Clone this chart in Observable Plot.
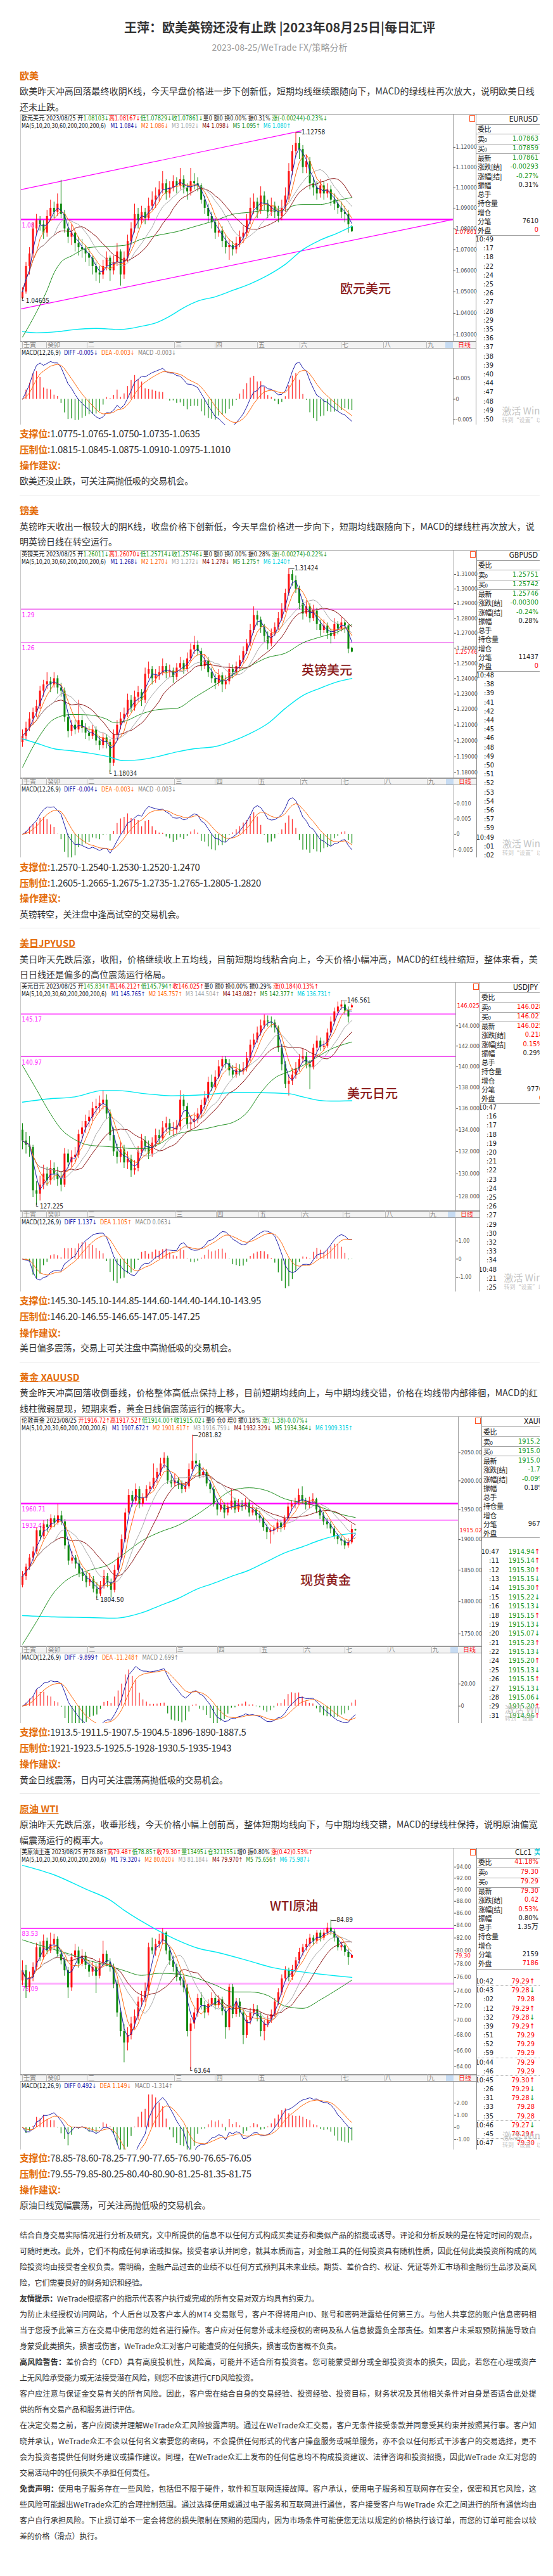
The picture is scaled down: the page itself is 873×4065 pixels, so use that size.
<!DOCTYPE html>
<html><head><meta charset="utf-8">
<script src="https://cdn.jsdelivr.net/npm/d3@7"></script>
<script src="https://cdn.jsdelivr.net/npm/@observablehq/plot@0.6"></script>
<style>
body{margin:0;background:#fff;font-family:"Noto Sans CJK SC","Noto Sans",sans-serif;}
#page{position:relative;width:873px;height:4065px;overflow:hidden;background:#fff;}
</style></head><body><div id="page"></div>
<script>
// ---------------- DATA ----------------
const titleText = "王萍：欧美英镑还没有止跌 |2023年08月25日|每日汇评";
const subtitleText = "2023-08-25/WeTrade FX/策略分析";
const headings = ["欧美","镑美","美日JPYUSD","黄金 XAUUSD","原油 WTI"];
const paragraphs = [
 ["欧美昨天冲高回落最终收阴K线，今天早盘价格进一步下创新低，短期均线继续跟随向下，MACD的绿线柱再次放大，说明欧美日线","还未止跌。"],
 ["英镑昨天收出一根较大的阴K线，收盘价格下创新低，今天早盘价格进一步向下，短期均线跟随向下，MACD的绿线柱再次放大，说","明英镑日线在转空运行。"],
 ["美日昨天先跌后涨，收阳，价格继续收上五均线，目前短期均线粘合向上，今天价格小幅冲高，MACD的红线柱缩短，整体来看，美","日日线还是偏多的高位震荡运行格局。"],
 ["黄金昨天冲高回落收倒垂线，价格整体高低点保持上移，目前短期均线向上，与中期均线交错，价格在均线带内部徘徊，MACD的红","线柱微弱显现，短期来看，黄金日线偏震荡运行的概率大。"],
 ["原油昨天先跌后涨，收垂形线，今天价格小幅上创前高，整体短期均线向下，与中期均线交错，MACD的绿线柱保持，说明原油偏宽","幅震荡运行的概率大。"]
];
const supports = ["1.0775-1.0765-1.0750-1.0735-1.0635","1.2570-1.2540-1.2530-1.2520-1.2470","145.30-145.10-144.85-144.60-144.40-144.10-143.95","1913.5-1911.5-1907.5-1904.5-1896-1890-1887.5","78.85-78.60-78.25-77.90-77.65-76.90-76.65-76.05"];
const pressures = ["1.0815-1.0845-1.0875-1.0910-1.0975-1.1010","1.2605-1.2665-1.2675-1.2735-1.2765-1.2805-1.2820","146.20-146.55-146.65-147.05-147.25","1921-1923.5-1925.5-1928-1930.5-1935-1943","79.55-79.85-80.25-80.40-80.90-81.25-81.35-81.75"];
const advices = ["欧美还没止跌，可关注高抛低吸的交易机会。","英镑转空，关注盘中逢高试空的交易机会。","美日偏多震荡，交易上可关注盘中高抛低吸的交易机会。","黄金日线震荡，日内可关注震荡高抛低吸的交易机会。","原油日线宽幅震荡，可关注高抛低吸的交易机会。"];
const disclaimer = [
 ["结合自身交易实际情况进行分析及研究，文中所提供的信息不以任何方式构成买卖证券和类似产品的招揽或诱导。评论和分析反映的是在特定时间的观点，",1],
 ["可随时更改。此外，它们不构成任何承诺或担保。接受者承认并同意，就其本质而言，对金融工具的任何投资具有随机性质，因此任何此类投资所构成的风",1],
 ["险投资均由接受者全权负责。需明确，金融产品过去的业绩不以任何方式预判其未来业绩。期货、差价合约、权证、凭证等外汇市场和金融衍生品涉及高风",1],
 ["险，它们需要良好的财务知识和经验。",0],
 ["<b>友情提示：</b>WeTrade根据客户的指示代表客户执行或完成的所有交易对双方均具有约束力。",0],
 ["为防止未经授权访问网站，个人后台以及客户本人的MT4 交易账号，客户不得将用户ID、账号和密码泄露给任何第三方。与他人共享您的账户信息密码相",1],
 ["当于您授予此第三方在交易中使用您的姓名进行操作。客户应对任何意外或未经授权的密码及私人信息披露负全部责任。如果客户未采取预防措施导致自",1],
 ["身蒙受此类损失，损害或伤害，WeTrade众汇对客户可能遭受的任何损失，损害或伤害概不负责。",0],
 ["<b>高风险警告：</b>差价合约（CFD）具有高度投机性，风险高，可能并不适合所有投资者。您可能蒙受部分或全部投资资本的损失，因此，若您在心理或资产",1],
 ["上无风险承受能力或无法接受潜在风险，则您不应该进行CFD风险投资。",0],
 ["客户应注意与保证金交易有关的所有风险。因此，客户需在结合自身的交易经验、投资经验、投资目标，财务状况及其他相关条件对自身是否适合此处提",1],
 ["供的所有交易产品和服务进行评估。",0],
 ["在决定交易之前，客户应阅读并理解WeTrade众汇风险披露声明。通过在WeTrade众汇交易，客户无条件接受条款并同意受其约束并按照其行事。客户知",1],
 ["晓并承认，WeTrade众汇不会以任何名义索要您的密码，不会提供任何形式的代客户操盘服务或喊单服务，亦不会以任何形式干涉客户的交易选择，更不",1],
 ["会为投资者提供任何财务建议或操作建议。同理，在WeTrade众汇上发布的任何信息均不构成投资建议、法律咨询和投资招揽，因此WeTrade 众汇对您的",1],
 ["交易活动中的任何损失不承担任何责任。",0],
 ["<b>免责声明：</b>使用电子服务存在一些风险，包括但不限于硬件，软件和互联网连接故障。客户承认，使用电子服务和互联网存在安全，保密和其它风险，这",1],
 ["些风险可能超出WeTrade众汇的合理控制范围。通过选择使用或通过电子服务和互联网进行通信，客户接受客户与WeTrade 众汇之间进行的所有通信均由",1],
 ["客户自行承担风险。下止损订单不一定会将您的损失限制在预期的范围内，因为市场条件可能使您无法以规定的价格执行该订单，而您的订单可能会以较",1],
 ["差的价格（滑点）执行。",0]
];
const monthLabels = ["壬寅","癸卯","二","三","四","五","六","七","八","九"];

// EURUSD daily candles [open, high, low, close]
const eurOHLC = [[1.047,1.052,1.0464,1.050],[1.050,1.064,1.049,1.062],[1.062,1.071,1.058,1.068],[1.068,1.083,1.066,1.080],[1.080,1.087,1.077,1.084],[1.084,1.086,1.079,1.082],[1.082,1.084,1.075,1.078],[1.078,1.089,1.076,1.086],[1.086,1.094,1.084,1.090],[1.090,1.093,1.085,1.088],
[1.088,1.097,1.086,1.092],[1.092,1.1037,1.085,1.087],[1.087,1.089,1.078,1.080],[1.080,1.083,1.073,1.076],[1.076,1.082,1.072,1.078],[1.078,1.079,1.069,1.073],[1.073,1.076,1.067,1.071],[1.071,1.075,1.066,1.070],[1.070,1.072,1.064,1.068],[1.068,1.071,1.062,1.066],
[1.066,1.067,1.058,1.062],[1.062,1.064,1.055,1.059],[1.059,1.062,1.054,1.058],[1.058,1.065,1.056,1.062],[1.062,1.069,1.060,1.066],[1.066,1.067,1.055,1.060],[1.060,1.067,1.058,1.064],[1.064,1.073,1.062,1.069],[1.069,1.070,1.0528,1.058],[1.058,1.069,1.056,1.066],
[1.066,1.077,1.064,1.074],[1.074,1.083,1.072,1.080],[1.080,1.092,1.078,1.087],[1.087,1.090,1.080,1.084],[1.084,1.091,1.082,1.088],[1.088,1.090,1.082,1.085],[1.085,1.095,1.084,1.091],[1.091,1.098,1.089,1.094],[1.094,1.100,1.090,1.096],[1.096,1.103,1.093,1.099],
[1.099,1.108,1.097,1.102],[1.102,1.104,1.094,1.097],[1.097,1.103,1.095,1.100],[1.100,1.106,1.098,1.103],[1.103,1.105,1.097,1.101],[1.101,1.1096,1.099,1.104],[1.104,1.106,1.097,1.100],[1.100,1.102,1.094,1.098],[1.098,1.1096,1.096,1.103],[1.103,1.107,1.099,1.102],
[1.102,1.105,1.098,1.101],[1.101,1.102,1.092,1.094],[1.094,1.096,1.087,1.090],[1.090,1.092,1.083,1.086],[1.086,1.088,1.080,1.083],[1.083,1.085,1.075,1.078],[1.078,1.083,1.076,1.079],[1.079,1.081,1.071,1.074],[1.074,1.077,1.068,1.071],[1.071,1.075,1.065,1.072],
[1.072,1.074,1.067,1.070],[1.070,1.076,1.068,1.073],[1.073,1.079,1.071,1.076],[1.076,1.081,1.073,1.078],[1.078,1.087,1.076,1.084],[1.084,1.095,1.082,1.090],[1.090,1.097,1.087,1.093],[1.093,1.095,1.085,1.089],[1.089,1.1005,1.087,1.096],[1.096,1.098,1.089,1.092],
[1.092,1.094,1.085,1.088],[1.088,1.095,1.086,1.091],[1.091,1.093,1.085,1.088],[1.088,1.091,1.083,1.086],[1.086,1.094,1.084,1.090],[1.090,1.100,1.088,1.096],[1.096,1.112,1.094,1.108],[1.108,1.121,1.106,1.118],[1.118,1.1276,1.115,1.122],[1.122,1.125,1.114,1.119],
[1.119,1.121,1.107,1.110],[1.110,1.116,1.107,1.113],[1.113,1.115,1.099,1.102],[1.102,1.105,1.096,1.100],[1.100,1.103,1.094,1.097],[1.097,1.104,1.095,1.101],[1.101,1.103,1.094,1.097],[1.097,1.102,1.095,1.099],[1.099,1.101,1.091,1.094],[1.094,1.097,1.089,1.092],
[1.092,1.095,1.087,1.090],[1.090,1.093,1.085,1.088],[1.088,1.091,1.083,1.087],[1.087,1.089,1.078,1.082],[1.0810,1.0817,1.0783,1.0786]];
const eurMA60 = [[0,1.029],[4,1.0406],[7,1.0507],[9,1.0589],[11,1.064],[14,1.067],[19,1.071],[24,1.0715],[29,1.072],[34,1.075],[39,1.077],[44,1.0786],[49,1.081],[55,1.084],[60,1.087],[65,1.088],[70,1.089],[75,1.089],[77,1.091],[80,1.0918],[85,1.0918],[90,1.0938],[94,1.0952]];
const eurMA200 = [[0,1.0315],[4,1.031],[10,1.0315],[14,1.0323],[21,1.033],[28,1.0325],[34,1.034],[38,1.0355],[42,1.0386],[46,1.0426],[50,1.0457],[55,1.0477],[60,1.0507],[65,1.0538],[70,1.0578],[75,1.063],[80,1.070],[85,1.0746],[90,1.078],[94,1.0812]];
const eurTrend = [{x1:-0.54,y1:1.0990,x2:79.7,y2:1.1283},{x1:-0.54,y1:1.0420,x2:122.9,y2:1.0845}];
const eurLevels = [{v:1.0845,label:"1.08",w:2.5,color:"#ff00ff"}];
const eurTicks = [1.03,1.04,1.05,1.06,1.07,1.08,1.09,1.10,1.11,1.12];
const eurMacdTicks = [-0.005,0,0.005];

const gbpOHLC = [[1.199,1.207,1.196,1.203],[1.203,1.212,1.200,1.208],[1.208,1.218,1.206,1.214],[1.214,1.221,1.210,1.218],[1.218,1.226,1.215,1.222],[1.222,1.235,1.220,1.232],[1.232,1.239,1.228,1.236],[1.236,1.244,1.233,1.238],[1.238,1.241,1.231,1.236],[1.236,1.244,1.234,1.240],
[1.240,1.242,1.230,1.234],[1.234,1.237,1.228,1.232],[1.232,1.234,1.212,1.215],[1.215,1.218,1.202,1.206],[1.206,1.213,1.203,1.210],[1.210,1.213,1.204,1.207],[1.207,1.226,1.205,1.213],[1.213,1.216,1.205,1.208],[1.208,1.211,1.201,1.205],[1.205,1.209,1.200,1.203],
[1.203,1.210,1.201,1.207],[1.207,1.209,1.197,1.200],[1.200,1.203,1.194,1.197],[1.197,1.205,1.195,1.202],[1.202,1.204,1.195,1.199],[1.199,1.201,1.1803,1.186],[1.186,1.207,1.184,1.204],[1.204,1.213,1.201,1.210],[1.210,1.218,1.207,1.214],[1.214,1.221,1.211,1.217],
[1.217,1.230,1.215,1.226],[1.226,1.229,1.218,1.221],[1.221,1.232,1.219,1.228],[1.228,1.235,1.225,1.231],[1.231,1.233,1.222,1.226],[1.226,1.247,1.224,1.243],[1.243,1.251,1.240,1.246],[1.246,1.248,1.236,1.240],[1.240,1.246,1.237,1.242],[1.242,1.248,1.239,1.244],
[1.244,1.253,1.242,1.248],[1.248,1.250,1.240,1.244],[1.244,1.249,1.241,1.245],[1.245,1.247,1.237,1.241],[1.241,1.250,1.239,1.247],[1.247,1.254,1.245,1.250],[1.250,1.252,1.243,1.246],[1.246,1.257,1.244,1.253],[1.253,1.263,1.251,1.259],[1.259,1.268,1.256,1.262],
[1.262,1.265,1.255,1.258],[1.258,1.260,1.245,1.248],[1.248,1.256,1.246,1.252],[1.252,1.254,1.241,1.244],[1.244,1.247,1.237,1.240],[1.240,1.243,1.233,1.237],[1.237,1.246,1.235,1.242],[1.242,1.244,1.231,1.236],[1.236,1.242,1.233,1.238],[1.238,1.250,1.236,1.246],
[1.246,1.249,1.240,1.244],[1.244,1.251,1.242,1.248],[1.248,1.255,1.246,1.252],[1.252,1.261,1.250,1.258],[1.258,1.266,1.256,1.263],[1.263,1.276,1.261,1.272],[1.272,1.288,1.270,1.282],[1.282,1.285,1.275,1.279],[1.279,1.281,1.270,1.274],[1.274,1.276,1.264,1.268],
[1.268,1.271,1.259,1.263],[1.263,1.273,1.261,1.270],[1.270,1.277,1.268,1.274],[1.274,1.284,1.272,1.280],[1.280,1.290,1.278,1.286],[1.286,1.300,1.284,1.297],[1.297,1.3142,1.295,1.310],[1.310,1.313,1.302,1.306],[1.306,1.309,1.297,1.300],[1.300,1.302,1.286,1.290],
[1.290,1.293,1.279,1.283],[1.283,1.292,1.281,1.288],[1.288,1.290,1.277,1.280],[1.280,1.289,1.278,1.285],[1.285,1.287,1.272,1.276],[1.276,1.279,1.268,1.272],[1.272,1.279,1.270,1.275],[1.275,1.277,1.266,1.270],[1.270,1.273,1.263,1.268],[1.268,1.280,1.266,1.276],
[1.276,1.278,1.269,1.273],[1.273,1.281,1.271,1.277],[1.277,1.279,1.270,1.275],[1.275,1.276,1.2565,1.2595],[1.2601,1.2607,1.2571,1.2575]];
const gbpMA60 = [[0,1.1833],[4,1.200],[9,1.2138],[14,1.2168],[19,1.2165],[24,1.2138],[26,1.2117],[29,1.2124],[34,1.2172],[39,1.220],[44,1.2207],[49,1.2276],[55,1.2359],[60,1.2428],[65,1.2484],[70,1.2539],[75,1.2567],[80,1.2636],[85,1.2675],[90,1.271],[94,1.2758]];
const gbpMA200 = [[0,1.2013],[4,1.1985],[9,1.195],[14,1.1937],[19,1.1923],[24,1.1903],[29,1.1875],[34,1.1882],[39,1.1903],[44,1.193],[49,1.195],[55,1.1964],[60,1.1999],[65,1.2047],[70,1.211],[75,1.2207],[80,1.229],[85,1.2338],[90,1.238],[94,1.2401]];
const gbpLevels = [{v:1.2862,label:"1.29",w:1.5,color:"#ee66ee"},{v:1.2637,label:"1.26",w:1.5,color:"#ee66ee"}];
const gbpTicks = [1.18,1.19,1.20,1.21,1.22,1.23,1.24,1.25,1.26,1.27,1.28,1.29,1.30,1.31];
const gbpMacdTicks = [-0.005,0,0.005,0.010];

const jpyOHLC = [[134.0,134.6,132.2,133.0],[133.0,133.8,131.8,132.6],[132.6,133.4,131.5,132.4],[132.4,132.6,127.9,128.5],[128.5,129.3,127.2,128.2],[128.2,129.8,127.6,129.0],[129.0,130.8,128.6,130.0],[130.0,130.6,128.9,129.4],[129.4,131.2,129.0,130.5],[130.5,131.0,129.4,130.0],
[130.0,130.6,128.9,129.5],[129.5,130.2,128.4,129.0],[129.0,132.3,128.8,131.8],[131.8,132.2,130.5,131.0],[131.0,132.1,130.6,131.5],[131.5,132.4,130.9,131.7],[131.7,134.0,131.4,133.6],[133.6,134.8,133.0,134.2],[134.2,135.4,133.7,134.8],[134.8,135.8,134.2,135.2],
[135.2,136.6,134.8,136.0],[136.0,136.9,135.4,136.2],[136.2,137.2,135.6,136.5],[136.5,137.7,135.9,136.8],[136.8,137.3,135.0,135.5],[135.5,135.9,133.0,133.5],[133.5,134.2,131.6,132.0],[132.0,132.7,130.9,131.5],[131.5,132.9,131.0,132.2],[132.2,132.6,130.5,131.0],
[131.0,132.0,130.4,131.3],[131.3,131.7,129.7,130.3],[130.3,131.2,129.9,130.5],[130.5,132.5,130.2,132.0],[132.0,133.6,131.6,133.0],[133.0,133.4,132.0,132.5],[132.5,133.0,131.3,131.8],[131.8,133.3,131.5,132.8],[132.8,134.1,132.4,133.5],[133.5,134.0,132.7,133.2],
[133.2,134.8,133.0,134.2],[134.2,135.2,133.8,134.6],[134.6,135.0,133.5,134.0],[134.0,134.7,133.4,134.0],[134.0,134.9,133.6,134.3],[134.3,137.7,134.0,136.8],[136.8,137.3,135.8,136.2],[136.2,136.5,134.1,134.5],[134.5,135.3,134.0,134.7],[134.7,135.6,134.2,135.0],
[135.0,136.0,134.6,135.5],[135.5,136.8,135.1,136.3],[136.3,137.6,135.9,137.0],[137.0,139.0,136.7,138.5],[138.5,139.2,137.6,138.0],[138.0,139.6,137.7,139.0],[139.0,140.6,138.8,140.0],[140.0,141.0,139.6,140.7],[140.7,141.0,139.8,140.3],[140.3,140.7,139.1,139.6],
[139.6,140.1,138.9,139.2],[139.2,140.3,138.9,139.7],[139.7,140.2,139.1,139.5],[139.5,140.4,139.2,139.8],[139.8,141.4,139.5,140.8],[140.8,142.6,140.5,142.1],[142.1,143.2,141.8,142.6],[142.6,143.9,142.3,143.3],[143.3,144.6,143.0,144.0],[144.0,145.1,143.7,144.5],
[144.5,145.0,143.9,144.4],[144.4,144.9,143.8,144.3],[144.3,144.6,143.3,143.8],[143.8,144.0,141.4,141.8],[141.8,142.2,139.6,140.2],[140.2,140.5,137.9,138.3],[138.3,139.2,137.2,138.6],[138.6,139.8,138.2,139.2],[139.2,140.4,138.8,139.8],[139.8,141.2,139.5,140.7],
[140.7,141.7,140.3,141.0],[141.0,141.4,139.8,140.2],[140.2,140.6,137.8,139.9],[139.9,142.2,139.7,141.8],[141.8,143.0,141.4,142.5],[142.5,142.8,141.5,141.9],[141.9,142.5,141.5,142.0],[142.0,143.7,141.8,143.3],[143.3,144.9,143.0,144.4],[144.4,145.8,144.1,145.4],
[145.4,146.4,145.1,145.9],[145.9,146.56,145.6,146.1],[146.1,146.4,145.1,145.5],[145.5,145.9,144.3,144.9],[145.83,146.21,145.79,146.03]];
const jpyMA60 = [[0,140.1],[4,137.8],[7,136.05],[11,134.1],[15,133.1],[19,132.6],[23,132.5],[27,132.4],[31,132.3],[35,132.3],[39,132.7],[43,133.5],[48,133.9],[52,134.1],[56,134.4],[60,134.7],[64,135.6],[68,137.5],[72,138.9],[76,139.5],[80,140.1],[84,140.9],[88,141.7],[92,142.2],[94,142.4]];
const jpyMA200 = [[0,136.6],[7,136.9],[15,137.1],[23,137.7],[27,137.7],[35,137.4],[43,137.2],[52,137.3],[60,137.5],[68,137.5],[76,137.4],[80,137.1],[84,136.8],[88,136.7],[94,136.73]];
const jpyLevels = [{v:145.17,label:"145.17",w:2,color:"#ff66ff"},{v:140.97,label:"140.97",w:1.5,color:"#ee44ee"}];
const jpyTicks = [128,130,132,134,136,138,140,142,144];
const jpyMacdTicks = [-1,0,1];

const xauOHLC = [[1826,1848,1822,1840],[1840,1860,1834,1855],[1855,1876,1850,1870],[1870,1888,1864,1880],[1880,1920,1876,1915],[1915,1922,1898,1905],[1905,1932,1900,1925],[1925,1934,1912,1920],[1920,1942,1916,1935],[1935,1940,1920,1928],
[1928,1960,1924,1940],[1940,1948,1924,1930],[1930,1934,1884,1890],[1890,1896,1858,1865],[1865,1880,1860,1870],[1870,1874,1852,1860],[1860,1866,1838,1845],[1845,1852,1832,1840],[1840,1846,1822,1830],[1830,1845,1824,1835],
[1835,1840,1814,1820],[1820,1830,1804.5,1812],[1812,1832,1808,1825],[1825,1850,1820,1840],[1840,1845,1822,1830],[1830,1836,1806,1818],[1818,1858,1814,1850],[1850,1878,1845,1870],[1870,1908,1866,1900],[1900,1952,1895,1945],
[1945,1985,1940,1975],[1975,1982,1955,1965],[1965,1995,1960,1985],[1985,1990,1952,1960],[1960,1978,1955,1970],[1970,1992,1965,1985],[1985,1998,1978,1990],[1990,2030,1985,2005],[2005,2022,1996,2015],[2015,2040,2008,2030],
[2030,2050,2022,2040],[2040,2044,1994,2000],[2000,2010,1988,1995],[1995,2012,1990,2000],[2000,2006,1985,1995],[1995,2000,1978,1985],[1985,1998,1980,1990],[1990,2030,1986,2020],[2020,2081.8,2015,2035],[2035,2048,2022,2030],
[2030,2036,2004,2010],[2010,2024,2005,2015],[2015,2020,1990,1995],[1995,2000,1978,1985],[1985,1990,1955,1960],[1960,1966,1940,1950],[1950,1968,1946,1958],[1958,1962,1935,1945],[1945,1962,1940,1955],[1955,1985,1950,1965],
[1965,1970,1944,1950],[1950,1968,1946,1960],[1960,1966,1948,1955],[1955,1970,1950,1962],[1962,1966,1938,1945],[1945,1958,1940,1950],[1950,1954,1932,1940],[1940,1948,1928,1935],[1935,1938,1914,1920],[1920,1926,1900,1912],
[1912,1920,1893,1915],[1915,1924,1908,1918],[1918,1934,1912,1928],[1928,1932,1912,1920],[1920,1940,1916,1935],[1935,1962,1930,1955],[1955,1966,1948,1960],[1960,1970,1952,1962],[1962,1986,1958,1975],[1975,1990,1960,1965],
[1965,1970,1950,1958],[1958,1972,1952,1965],[1965,1978,1960,1968],[1968,1970,1944,1950],[1950,1955,1934,1940],[1940,1946,1924,1930],[1930,1936,1918,1925],[1925,1930,1910,1918],[1918,1922,1900,1905],[1905,1910,1892,1900],
[1900,1906,1890,1898],[1898,1902,1884,1890],[1890,1902,1886,1895],[1895,1925,1892,1917],[1916.7,1917.5,1914.0,1915.0]];
const xauMA60 = [[0,1734],[4,1769],[9,1815],[12,1832],[19,1850],[24,1858],[29,1878],[34,1899],[39,1913],[44,1924],[49,1941],[54,1962],[59,1983],[64,1988],[69,1983],[74,1969],[79,1962],[84,1955],[89,1944],[94,1937]];
const xauMA200 = [[0,1778],[9,1776],[19,1775],[26,1774],[34,1783],[39,1794],[44,1805],[49,1819],[54,1829],[59,1840],[64,1850],[69,1864],[74,1878],[79,1888],[84,1899],[89,1907],[94,1911]];
const xauLevels = [{v:1960.71,label:"1960.71",w:2.5,color:"#ff00ff"},{v:1932.41,label:"1932.41",w:1.2,color:"#ff33ff"}];
const xauTicks = [1750,1800,1850,1900,1950,2000,2050];
const xauMacdTicks = [0,20];

const oilOHLC = [[75.5,78.5,74.8,77.0],[77.0,77.8,73.0,74.5],[74.5,76.8,73.8,76.0],[76.0,78.2,75.4,77.5],[77.5,81.2,77.0,80.5],[80.5,81.4,78.4,79.0],[79.0,82.5,78.6,81.5],[81.5,82.0,79.4,80.0],[80.0,82.8,79.6,81.0],[81.0,82.6,80.2,81.8],
[81.8,82.2,79.0,79.5],[79.5,80.2,77.9,78.5],[78.5,79.0,76.2,77.0],[77.0,77.5,73.0,74.5],[74.5,79.6,74.0,79.0],[79.0,81.0,78.5,80.0],[80.0,80.6,77.4,78.0],[78.0,80.2,77.6,79.2],[79.2,79.8,77.2,77.8],[77.8,78.4,76.0,76.8],
[76.8,78.4,76.2,77.5],[77.5,78.0,73.7,76.2],[76.2,78.8,75.8,78.0],[78.0,81.5,77.5,79.5],[79.5,80.0,77.6,78.2],[78.2,78.8,76.8,77.5],[77.5,78.0,74.4,75.0],[75.0,75.6,70.4,71.0],[71.0,71.6,67.8,68.5],[68.5,69.4,64.5,67.0],
[67.0,69.0,66.0,68.0],[68.0,70.4,67.4,69.5],[69.5,71.4,68.8,70.5],[70.5,73.2,70.0,72.5],[72.5,74.0,71.8,73.0],[73.0,75.2,72.4,74.0],[74.0,81.2,73.6,80.5],[80.5,82.0,79.4,80.0],[80.0,81.8,79.2,81.0],[81.0,82.6,80.4,81.5],
[81.5,83.5,81.0,82.8],[82.8,83.0,79.4,80.0],[80.0,80.6,77.8,78.5],[78.5,79.2,76.8,77.5],[77.5,78.0,75.4,76.0],[76.0,77.0,74.8,75.5],[75.5,76.2,73.8,74.5],[74.5,75.0,67.8,68.5],[68.5,70.2,63.64,69.5],[69.5,71.6,68.8,71.0],
[71.0,73.6,70.4,73.0],[73.0,73.8,71.4,72.0],[72.0,72.6,70.2,71.0],[71.0,72.8,70.6,72.2],[72.2,73.8,71.8,73.0],[73.0,73.4,71.4,72.0],[72.0,73.4,71.6,72.8],[72.8,73.2,70.6,71.2],[71.2,71.8,67.5,69.0],[69.0,75.0,68.6,74.6],
[74.6,75.0,70.2,70.8],[70.8,73.0,70.4,72.5],[72.5,73.0,70.4,71.0],[71.0,71.4,66.8,68.0],[68.0,70.6,67.6,70.0],[70.0,71.6,69.4,71.0],[71.0,72.2,70.6,71.5],[71.5,72.0,69.8,70.5],[70.5,71.0,67.8,68.5],[68.5,70.0,67.3,69.5],
[69.5,70.6,69.0,70.0],[70.0,71.4,69.6,70.8],[70.8,73.0,70.4,72.5],[72.5,74.4,72.0,73.8],[73.8,76.4,73.4,75.8],[75.8,77.6,75.4,77.0],[77.0,77.4,75.4,76.0],[76.0,77.8,75.6,77.2],[77.2,79.0,76.8,78.5],[78.5,80.4,78.0,79.8],
[79.8,81.0,79.2,80.5],[80.5,81.8,80.0,81.0],[81.0,82.6,80.6,82.0],[82.0,82.4,80.8,81.5],[81.5,83.2,81.0,82.8],[82.8,83.2,81.4,82.0],[82.0,83.4,81.6,82.8],[82.8,84.4,82.4,83.6],[83.6,84.89,82.4,83.0],[83.0,83.4,81.4,82.0],
[82.0,82.4,80.0,80.5],[80.5,81.4,80.0,80.8],[80.8,81.2,79.2,79.8],[79.8,80.2,77.8,79.0],[78.88,79.48,78.85,79.30]];
const oilMA60 = [[0,81.7],[4,81.0],[9,80.2],[14,79.4],[19,78.5],[24,77.8],[29,77.0],[34,76.3],[39,76.6],[44,76.5],[49,76.0],[55,74.9],[60,73.9],[65,73.9],[70,73.4],[75,71.9],[80,71.6],[85,72.8],[90,74.3],[94,75.6]];
const oilMA200 = [[0,94.3],[9,92.6],[18,90.1],[25,88.2],[29,86.5],[38,83.4],[44,81.7],[50,80.4],[56,79.7],[65,78.4],[71,77.5],[80,76.8],[90,76.2],[94,76.0]];
const oilLevels = [{v:83.53,label:"83.53",w:1.5,color:"#ff00ff"},{v:75.09,label:"75.09",w:3,color:"#ffb0ff"}];
const oilTicks = [64,66,68,70,72,74,76,78,80,82,84,86,88,90,92,94];
const oilMacdTicks = [-1,0,1,2];

// quote panels
const eurRows = [["委比",""],["卖0","1.07863","g"],["买0","1.07859","g"],["最新","1.07861","g"],["涨跌[结]","-0.00293","g"],["涨幅[结]","-0.27%","g"],["振幅","0.31%"],["总手",""],["持仓量",""],["增仓",""],["分笔","7610"],["外盘","0","r"]];
const eurTimes = ["10:49",":17",":18",":22",":24",":25",":26",":27",":28",":29",":35",":36",":37",":38",":39",":40",":44",":47",":48",":49",":50"];
const gbpRows = [["委比",""],["卖0","1.25751","g"],["买0","1.25742","g"],["最新","1.25746","g"],["涨跌[结]","-0.00300","g"],["涨幅[结]","-0.24%","g"],["振幅","0.28%"],["总手",""],["持仓量",""],["增仓",""],["分笔","11437"],["外盘","0","r"]];
const gbpTimes = ["10:48",":38",":39",":41",":42",":44",":45",":46",":48",":49",":50",":51",":52",":53",":54",":56",":57",":59","10:49",":01",":02"];
const jpyRows = [["委比",""],["卖0","146.028","r"],["买0","146.021","r"],["最新","146.025","r"],["涨跌[结]","0.218","r"],["涨幅[结]","0.15%","r"],["振幅","0.29%"],["总手",""],["持仓量",""],["增仓",""],["分笔","9770"],["外盘","0","r"]];
const jpyTimes = ["10:47",":16",":17",":18",":19",":20",":21",":22",":23",":24",":25",":26",":27",":29",":30",":32",":33",":34","10:48",":21",":25"];
const xauRows = [["委比",""],["卖0","1915.20","g"],["买0","1915.02","g"],["最新","1915.02","g"],["涨跌[结]","-1.70","g"],["涨幅[结]","-0.09%","g"],["振幅","0.18%"],["总手",""],["持仓量",""],["增仓",""],["分笔","9670"],["外盘",""]];
const xauTimes = [["10:47","1914.94","↑"],[":11","1915.14","↑"],[":12","1915.30","↑"],[":13","1915.15","↓"],[":14","1915.30","↑"],[":15","1915.22","↓"],[":16","1915.13","↓"],[":18","1915.15","↑"],[":19","1915.13","↓"],[":20","1915.07","↓"],[":21","1915.23","↑"],[":22","1915.13","↓"],[":24","1915.20","↑"],[":25","1915.13","↓"],[":26","1915.15","↑"],[":27","1915.13","↓"],[":28","1915.06","↓"],[":29","1915.20","↑"],[":31","1914.96","↑"]];
const oilRows = [["委比","41.18%","r"],["卖0","79.30","r"],["买0","79.29","r"],["最新","79.30","r"],["涨跌[结]","0.42","r"],["涨幅[结]","0.53%","r"],["振幅","0.80%"],["总手","1.35万"],["持仓量",""],["增仓",""],["分笔","2159"],["外盘","7186","r"]];
const oilTimes = [["10:42","79.29","↑"],["10:43","79.28","↓"],[":02","79.28",""],[":12","79.29","↑"],[":32","79.28","↓"],[":39","79.29","↑"],[":51","79.29",""],[":52","79.29",""],[":59","79.29",""],["10:44","79.29",""],[":46","79.29",""],["10:45","79.30","↑"],[":26","79.29","↓"],[":31","79.28","↓"],[":33","79.28",""],[":35","79.28",""],["10:46","79.27","↓"],[":45","79.29","↑"],["10:47","79.30",""]];

// chart header texts [text, color]
const eurHead1 = [["欧元美元 2023/08/25 开","#222"],["1.08103↓","#1a9a1a"],["高1.08167↓","#f00"],["低1.07829↓","#1a9a1a"],["收1.07861↓","#1a9a1a"],["量0 额0 换0.00% 振0.31% ","#222"],["涨(-0.00244)-0.23%↓","#1a9a1a"]];
const gbpHead1 = [["英镑美元 2023/08/25 开","#222"],["1.26011↓","#1a9a1a"],["高1.26070↓","#f00"],["低1.25714↓","#1a9a1a"],["收1.25746↓","#1a9a1a"],["量0 额0 换0.00% 振0.28% ","#222"],["涨(-0.00274)-0.22%↓","#1a9a1a"]];
const jpyHead1 = [["美元日元 2023/08/25 开","#222"],["145.834↑","#1a9a1a"],["高146.212↑","#f00"],["低145.794↑","#1a9a1a"],["收146.025↑","#f00"],["量0 额0 换0.00% 振0.29% ","#222"],["涨(0.184)0.13%↑","#f00"]];
const xauHead1 = [["伦敦黄金 2023/08/25 ","#222"],["开1916.72↑","#f00"],["高1917.52↑","#f00"],["低1914.00↑","#1a9a1a"],["收1915.02↓","#1a9a1a"],["量0 仓0 增0 振0.18% ","#222"],["涨(-1.38)-0.07%↓","#1a9a1a"]];
const oilHead1 = [["美原油主连 2023/08/25 开78.88↑","#222"],["高79.48↑","#f00"],["低78.85↑","#1a9a1a"],["收79.30↑","#f00"],["量13495↓","#1a9a1a"],["仓321155↓","#1a9a1a"],["增0 振0.80% ","#222"],["涨(0.42)0.53%↑","#f00"]];
const eurMAText = ["1.084↓","1.086↓","1.092↓","1.098↓","1.095↑","1.080↑"];
const gbpMAText = ["1.268↓","1.270↓","1.272↓","1.278↓","1.275↑","1.240↑"];
const jpyMAText = ["145.765↑","145.757↑","144.504↑","143.082↑","142.377↑","136.731↑"];
const xauMAText = ["1907.672↑","1901.617↑","1916.759↓","1932.329↓","1934.364↓","1909.315↑"];
const oilMAText = ["79.320↓","80.020↓","81.184↓","79.970↑","75.656↑","75.987↓"];
const eurMacdText = ["-0.005↓","-0.003↓","-0.003↓"];
const gbpMacdText = ["-0.004↓","-0.003↓","-0.003↓"];
const jpyMacdText = ["1.137↓","1.105↑","0.063↓"];
const xauMacdText = ["-9.899↑","-11.248↑","2.699↑"];
const oilMacdText = ["0.492↓","1.149↓","-1.314↑"];

// ---------------- RENDER ----------------
const page = document.getElementById("page");
const ORANGE = "#e46c0a";
const RED = "#ff1010", GRN = "#118a11";
const MAC = ["#1c1ca8","#ff6a10","#a8a8a8","#8b1414","#1f8f1f","#00e8f0"];
const NARROW = "'Liberation Sans Narrow','Arial Narrow','DejaVu Sans Condensed','Liberation Sans','Noto Sans CJK SC',sans-serif";

function el(parent, tag, css, html){ const e=document.createElement(tag); if(css) e.style.cssText=css; if(html!=null) e.innerHTML=html; parent.appendChild(e); return e; }
function textLine(y, html, o={}){
  const d = el(page,"div",`position:absolute;left:${o.x??31}px;top:${y-12.5}px;height:25px;line-height:25px;white-space:nowrap;font-size:${o.size??14}px;color:${o.color??"#333"};${o.css??""}`, html);
  if(o.w) d.dataset.w=o.w; return d;
}

// title
el(page,"div",`position:absolute;left:31px;width:821px;top:28px;height:30px;line-height:30px;text-align:center;font-size:20px;font-weight:bold;color:#333;`, titleText);
el(page,"div",`position:absolute;left:31px;width:821px;top:64px;height:20px;line-height:20px;text-align:center;font-size:14px;color:#999;`, subtitleText);

const secs = [
 {h:118,p:[143,168],sup:683,pre:708,op:733,adv:758,sep:782,w:813},
 {h:804,p:[830,854],sup:1367,pre:1392,op:1416,adv:1442,sep:1464,w:813},
 {h:1487,p:[1513,1537],sup:2051,pre:2076,op:2102,adv:2126,sep:2149,w:818},
 {h:2172,p:[2197,2222],sup:2732,pre:2757,op:2782,adv:2808,sep:2830,w:818},
 {h:2853,p:[2878,2903],sup:3404,pre:3429,op:3454,adv:3479,sep:3502,w:818}
];
secs.forEach((s,k)=>{
  textLine(s.h, `<span style="color:${ORANGE};font-weight:bold;${k>0?"text-decoration:underline;":""}">${headings[k]}</span>`, {size:15});
  textLine(s.p[0], paragraphs[k][0], {w:s.w});
  textLine(s.p[1], paragraphs[k][1]);
  textLine(s.sup, `<b style="color:${ORANGE}">支撑位:</b>${supports[k]}`, {size:15, css:"letter-spacing:-0.4px"});
  textLine(s.pre, `<b style="color:${ORANGE}">压制位:</b>${pressures[k]}`, {size:15, css:"letter-spacing:-0.4px"});
  textLine(s.op, `<b style="color:${ORANGE}">操作建议:</b>`, {size:15});
  textLine(s.adv, advices[k], {css:"letter-spacing:-0.3px"});
  el(page,"div",`position:absolute;left:31px;top:${s.sep}px;width:821px;height:1px;background:#e6e6e6`);
});
disclaimer.forEach(([t,full],k)=>{
  textLine(3526+25*k, t, {size:12, w: full?816:null, css: full?"":"letter-spacing:-0.2px"});
});

// -------- charts --------
function emaArr(a,n){ const k=2/(n+1); let e=a[0]; return a.map(v=>(e=e+k*(v-e))); }

function chart(c){
  const bandH=12, W=820, H=c.mainH+bandH+c.macdH, axR=c.plotW+c.axisW;
  const root = el(page,"div",`position:absolute;left:32px;top:${c.top}px;width:${W}px;height:${H}px;overflow:hidden;background:#fff;font-family:${NARROW};`);
  const n=c.ohlc.length, step=(c.lastX-c.firstX)/(n-1);
  const xd=[-c.firstX/step,(c.plotW-c.firstX)/step];
  const rows=c.ohlc.map(([o,h,l,cl],i)=>({i,o,h,l,c:cl,col:cl>=o?RED:GRN}));
  const closes=rows.map(d=>d.c);
  const last=rows[n-1];
  const hi=rows[c.hiIdx], lo=rows[c.loIdx];
  const style={background:"transparent",overflow:"visible",fontFamily:NARROW,fontSize:"9px",color:"#555"};
  const win=(k,col)=>Plot.lineY(rows,Plot.windowY({k,anchor:"end",strict:false},{x:"i",y:"c",stroke:col,strokeWidth:1,clip:true}));
  const mainSvg = Plot.plot({
    width:axR, height:c.mainH, marginLeft:0, marginRight:c.axisW, marginTop:0, marginBottom:0,
    x:{domain:xd, axis:null}, y:{type:"log", domain:c.yDomain, axis:null}, color:{type:"identity"}, style,
    marks:[
      Plot.ruleY(c.levels,{y:"v",stroke:"color",strokeWidth:"w"}),
      Plot.text(c.levels,{y:"v",text:"label",frameAnchor:"left",dx:2,dy:9,fill:"#ff22ff",fontSize:10,textAnchor:"start"}),
      c.trend ? Plot.link(c.trend,{x1:"x1",y1:"y1",x2:"x2",y2:"y2",stroke:"#ff00ff",strokeWidth:1.2}) : null,
      Plot.ruleX(rows,{x:"i",y1:"l",y2:"h",stroke:"col",strokeWidth:1,clip:true}),
      Plot.ruleX(rows,{x:"i",y1:"o",y2:"c",stroke:"col",strokeWidth:3,clip:true}),
      Plot.line(c.ma200,{x:d=>d[0],y:d=>d[1],stroke:MAC[5],strokeWidth:1.4,curve:"monotone-x",clip:true}),
      Plot.line(c.ma60,{x:d=>d[0],y:d=>d[1],stroke:MAC[4],strokeWidth:1,curve:"monotone-x",clip:true}),
      win(15,MAC[3]), win(10,MAC[2]), win(5,MAC[1]), win(3,MAC[0]),
      Plot.text([hi],{x:"i",y:"h",text:()=>"—"+c.hiText,textAnchor:"start",dx:0,dy:0,fill:"#222",fontSize:10}),
      Plot.text([lo],{x:"i",y:"l",text:()=>"└ "+c.loText,textAnchor:"start",dx:-3,dy:2,fill:"#222",fontSize:10}),
      Plot.axisY(c.ticks,{anchor:"right",tickSize:3,tickPadding:1,tickFormat:c.fmt,fontSize:9,label:null}),
      Plot.text([last],{y:"c",text:()=>c.lastText,frameAnchor:"right",dx:2,textAnchor:"start",fill:RED,fontSize:9.5})
    ]
  });
  el(root,"div",`position:absolute;left:0;top:0;width:${axR}px;height:${c.mainH}px`).appendChild(mainSvg);

  // MACD
  const e1=emaArr(closes,6), e2=emaArr(closes,13);
  const diff=e1.map((v,i)=>v-e2[i]), dea=emaArr(diff,5);
  const mrows=diff.map((d,i)=>({i,d,e:dea[i],h:2*(d-dea[i])}));
  const macdSvg = Plot.plot({
    width:axR, height:c.macdH, marginLeft:0, marginRight:c.axisW, marginTop:0, marginBottom:0,
    x:{domain:xd, axis:null}, y:{domain:c.macdDomain, axis:null}, color:{type:"identity"}, style,
    marks:[
      Plot.ruleX(mrows,{x:"i",y1:0,y2:"h",stroke:d=>d.h>=0?"#ff3030":"#159015",strokeWidth:1.3,clip:true}),
      Plot.line(mrows,{x:"i",y:"d",stroke:"#1c1ca8",strokeWidth:1,clip:true}),
      Plot.line(mrows,{x:"i",y:"e",stroke:"#ff6a10",strokeWidth:1,clip:true}),
      Plot.axisY(c.macdTicks,{anchor:"right",tickSize:3,tickPadding:1,tickFormat:c.macdFmt,fontSize:9,label:null})
    ]
  });
  el(root,"div",`position:absolute;left:0;top:${c.mainH+bandH}px;width:${axR}px;height:${c.macdH}px`).appendChild(macdSvg);

  // frame lines
  el(root,"div",`position:absolute;left:0;top:0;width:${W}px;height:1px;background:#b8b8b8`);
  el(root,"div",`position:absolute;left:0;top:0;width:1px;height:${H}px;background:#c8c8c8`);
  el(root,"div",`position:absolute;left:${c.plotW}px;top:0;width:1px;height:${H}px;background:#9a9a9a`);

  // band with month labels
  const band = el(root,"div",`position:absolute;left:0;top:${c.mainH}px;width:${axR}px;height:${bandH}px;background:#f3f3f3;border-top:2px solid #9a9a9a;border-bottom:1px solid #9a9a9a;box-sizing:border-box;font-size:10px;color:#8a8a8a;`);
  const mx=[3,41,105,243,307,374,441,506,573,641];
  monthLabels.forEach((m,k)=>{ el(band,"div",`position:absolute;left:${mx[k]*c.plotW/683}px;top:-2px;height:11px;line-height:11px;border-left:1px solid #bbb;padding-left:1px;font-family:'Noto Sans CJK SC'`, m); });
  el(band,"div",`position:absolute;left:${c.plotW-12}px;top:0;width:12px;height:9px;background:#c6dbf2`);
  el(band,"div",`position:absolute;left:${c.plotW+8}px;top:-2px;line-height:11px;color:#f22;font-family:'Noto Sans CJK SC'`,"日线");

  // headers
  const h1 = el(root,"div",`position:absolute;left:2px;top:1px;height:12px;line-height:12px;white-space:nowrap;font-size:10px;`, c.head1.map(([t,col])=>`<span style="color:${col}">${t}</span>`).join(""));
  h1.dataset.sx=c.h1w;
  const maCols=MAC.map((m,k)=>k==5?"#00d0e0":m);
  const h2 = el(root,"div",`position:absolute;left:2px;top:13px;height:12px;line-height:12px;white-space:nowrap;font-size:10px;color:#222`,
     `MA(5,10,20,30,60,200,200,200,6) `+c.maText.map((t,k)=>`<span style="color:${maCols[k]}">&nbsp; M${k+1} ${t}</span>`).join(""));
  h2.dataset.sx=c.h2w;
  const h3 = el(root,"div",`position:absolute;left:2px;top:${c.mainH+bandH+1}px;height:12px;line-height:12px;white-space:nowrap;font-size:10px;color:#222`,
     `MACD(12,26,9) &nbsp;<span style="color:#1c1ca8">DIFF ${c.macdText[0]}</span> &nbsp;<span style="color:#ff6a10">DEA ${c.macdText[1]}</span> &nbsp;<span style="color:#888">MACD ${c.macdText[2]}</span>`);
  h3.dataset.sx=c.h3w;

  // name label
  el(root,"div",`position:absolute;left:${c.name[1]}px;top:${c.name[2]-13}px;font-size:20px;line-height:26px;color:#8b1a1a;font-family:'Noto Sans CJK SC';font-weight:500;white-space:nowrap`, c.name[0]);
  // small red square
  el(root,"div",`position:absolute;left:${axR-10}px;top:2px;width:7px;height:8px;border:1px solid #ff5020;`);

  // right quote panel
  const pw=W-axR;
  const p = el(root,"div",`position:absolute;left:${axR}px;top:0;width:${pw}px;height:${H}px;overflow:hidden;border-left:1px solid #8a8a8a;box-sizing:border-box;font-size:11px;color:#222;`);
  const put=(css,html)=>el(p,"div",`position:absolute;height:14px;line-height:14px;white-space:nowrap;${css}`,html);
  put(c.titleCss, c.panelTitle);
  [15.5,31,46.5,61.5,191].forEach(y=>el(p,"div",`position:absolute;left:0;top:${y}px;width:100%;height:1px;background:#a0a0a0`));
  const ry=[23,38.5,54,69,83.3,97.6,111.9,126.1,140.4,154.6,168.9,183.2];
  c.rows.forEach((r,k)=>{
    const lab=r[0].replace("0","<span style='font-size:8px'>0</span>");
    put(`left:2px;top:${ry[k]+c.rowShift-7}px;font-family:'Noto Sans CJK SC';font-size:11px;letter-spacing:-0.5px`, lab);
    if(r[1]) put(`right:${c.valRight}px;top:${ry[k]+c.rowShift-7}px;color:${r[2]=="g"?"#1a9a1a":r[2]=="r"?"#f00":"#222"}`, r[1]);
  });
  c.times.forEach((t,k)=>{
    const y=c.t0+k*c.tStep;
    const tt=Array.isArray(t)?t:[t];
    if(c.dotted && k>0 && tt[0].startsWith("10:")) el(p,"div",`position:absolute;left:0;top:${y-8}px;width:100%;height:0;border-top:1px dotted #aaa`);
    put(`right:${pw-c.timeRight}px;top:${y-7}px;color:#222`, tt[0]);
    if(tt[1]) put(`right:${c.tvRight}px;top:${y-7}px;color:${c.tvColor}`, tt[1]+(tt[2]?`<span style="color:${tt[2]=="↑"?"#f00":"#1a9a1a"}">${tt[2]}</span>`:""));
  });
  put(`left:${pw*0.5-10}px;top:${H-31}px;color:#c4c4c4;font-size:15px;height:18px;line-height:18px;font-family:'Noto Sans CJK SC'`,"激活 Windows");
  put(`left:${pw*0.5-10}px;top:${H-14}px;color:#c8c8c8;font-size:9px;font-family:'Noto Sans CJK SC'`,"转到“设置”以激活 Windows。");
}

const f5=d=>d.toFixed(5), f3=d=>d===0?"0":d.toFixed(3), f2=d=>d===0?"0":d.toFixed(2);
const basePanel={titleCss:"right:3px;top:1px;font-size:12px",rowShift:0,valRight:2,t0:198,tStep:14.2,timeRight:28,dotted:false};
chart({...basePanel,top:180,mainH:358,macdH:120,plotW:683,axisW:36,firstX:3,lastX:523,ohlc:eurOHLC,ma60:eurMA60,ma200:eurMA200,trend:eurTrend,levels:eurLevels,
  yDomain:[1.0271,1.1366],ticks:eurTicks,fmt:f5,macdDomain:[-0.00623,0.01223],macdTicks:eurMacdTicks,macdFmt:f3,
  hiIdx:78,loIdx:0,hiText:"1.12758",loText:"1.04635",lastText:"1.07861",head1:eurHead1,maText:eurMAText,macdText:eurMacdText,h1w:483,h2w:425,h3w:244,
  name:["欧元美元",505,275],panelTitle:"EURUSD",rows:eurRows,times:eurTimes});
chart({...basePanel,top:868,mainH:359,macdH:114,plotW:684,axisW:36,firstX:3,lastX:523,ohlc:gbpOHLC,ma60:gbpMA60,ma200:gbpMA200,trend:null,levels:gbpLevels,
  yDomain:[1.1768,1.3267],ticks:gbpTicks,fmt:f5,macdDomain:[-0.00766,0.01588],macdTicks:gbpMacdTicks,macdFmt:f3,
  hiIdx:76,loIdx:25,hiText:"1.31424",loText:"1.18034",lastText:"1.25746",head1:gbpHead1,maText:gbpMAText,macdText:gbpMacdText,h1w:483,h2w:425,h3w:244,
  name:["英镑美元",444,189],panelTitle:"GBPUSD",rows:gbpRows,times:gbpTimes});
chart({...basePanel,top:1550,mainH:360,macdH:116,plotW:687,axisW:38,firstX:3,lastX:523,ohlc:jpyOHLC,ma60:jpyMA60,ma200:jpyMA200,trend:null,levels:jpyLevels,
  yDomain:[126.73,148.37],ticks:jpyTicks,fmt:d=>d.toFixed(3),macdDomain:[-1.80,2.244],macdTicks:jpyMacdTicks,macdFmt:f2,
  hiIdx:91,loIdx:4,hiText:"146.561",loText:"127.225",lastText:"146.025",head1:jpyHead1,maText:jpyMAText,macdText:jpyMacdText,h1w:469,h2w:489,h3w:237,
  name:["美元日元",516,175],panelTitle:"USDJPY",rows:jpyRows,times:jpyTimes,valRight:-5,timeRight:27});
chart({...basePanel,top:2235,mainH:362,macdH:110,plotW:691,axisW:37,firstX:3,lastX:528.5,ohlc:xauOHLC,ma60:xauMA60,ma200:xauMA200,trend:null,levels:xauLevels,
  yDomain:[1731.4,2115.3],ticks:xauTicks,fmt:d=>d.toFixed(2),macdDomain:[-15.6,47.3],macdTicks:xauMacdTicks,macdFmt:f2,
  hiIdx:48,loIdx:21,hiText:"2081.82",loText:"1804.50",lastText:"1915.02",head1:xauHead1,maText:xauMAText,macdText:xauMacdText,h1w:453,h2w:523,h3w:248,
  name:["现货黄金",442,258],panelTitle:"XAUUSD",titleCss:"left:66px;top:1px;font-size:12px",rows:xauRows,rowShift:1,valRight:-7,
  times:xauTimes,t0:214,tStep:14.37,timeRight:28,tvRight:0,tvColor:"#1a9a1a"});
chart({...basePanel,top:2916,mainH:357,macdH:107,plotW:684,axisW:36,firstX:3,lastX:523,ohlc:oilOHLC,ma60:oilMA60,ma200:oilMA200,trend:null,levels:oilLevels,
  yDomain:[63.05,97.47],ticks:oilTicks,fmt:d=>d.toFixed(2),macdDomain:[-1.83,3.73],macdTicks:oilMacdTicks,macdFmt:f2,
  hiIdx:88,loIdx:48,hiText:"84.89",loText:"63.64",lastText:"79.30",head1:oilHead1,maText:oilMAText,macdText:oilMacdText,h1w:460,h2w:456,h3w:239,
  name:["WTI原油",394,91],panelTitle:"CLc1 <span style='color:#00c8d8'>美国</span>",titleCss:"left:60px;top:0px;font-size:12px",rows:oilRows,rowShift:-1,
  times:oilTimes,t0:211,tStep:14.17,timeRight:27,tvRight:8,tvColor:"#f00",dotted:true});

// fit widths
document.querySelectorAll("[data-w]").forEach(e=>{
  const w=e.getBoundingClientRect().width, n=[...e.textContent].length;
  e.style.letterSpacing=((parseFloat(e.dataset.w)-w)/n)+"px";
});
document.querySelectorAll("[data-sx]").forEach(e=>{
  const w=e.getBoundingClientRect().width;
  e.style.transformOrigin="0 50%"; e.style.transform=`scaleX(${parseFloat(e.dataset.sx)/w})`;
});
</script></body></html>
